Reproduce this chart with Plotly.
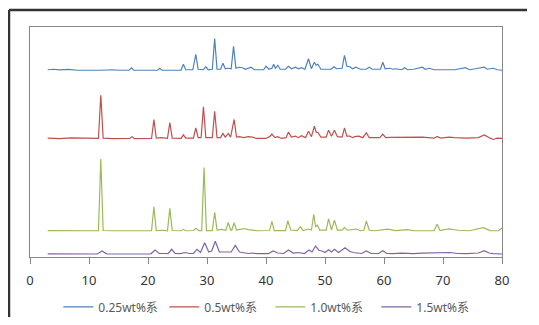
import plotly.graph_objects as go

# 2-theta (deg) and relative intensity (offset stacked)
x_025 = [3, 4, 5, 6.5, 8, 10, 12, 14, 15, 16.8, 17.2, 17.6, 19, 21.6, 22, 22.4, 24, 25.6, 26, 26.4,
         27.6, 28.1, 28.5, 29.4, 29.8, 30.2, 30.9, 31.3, 31.7, 32.3, 32.7, 33.1, 33.5, 34.1, 34.5, 34.9,
         35.5, 36, 36.5, 37.5, 38, 39.6, 40, 40.5, 41, 41.3, 41.6, 42, 42.4, 43.3, 43.8, 44.3, 45, 45.5,
         46, 46.6, 47.2, 47.7, 48.2, 48.5, 48.8, 49.3, 51, 51.5, 52, 52.9, 53.3, 53.7, 54.2, 54.7, 55.2,
         56, 57, 57.5, 58, 59.4, 59.8, 60.2, 61, 61.5, 62, 63, 63.5, 64, 65, 66.5, 67, 67.7, 68.5, 70,
         72, 73.8, 74.5, 75.5, 76.5, 77, 77.5, 78.5, 79.2, 80]
y_025 = [187.5, 188, 187.3, 187.8, 187, 186.8, 187, 187.5, 187, 187, 189.5, 187, 186.8, 187, 189, 187, 187, 187.2, 193, 187.5,
         187.5, 203, 188, 187.5, 190.5, 187.5, 188, 218.7, 188, 188, 194, 188.5, 189, 188.5, 211, 189,
         190, 189.5, 188, 190, 187.5, 187.5, 191, 188, 189, 193, 189, 192, 188, 188, 191, 188.5, 190, 188.5,
         189.5, 188, 198.5, 188.5, 195, 192, 193, 188, 188, 190.5, 188.5, 189, 202, 191, 190.5, 188.5, 190,
         188, 188, 190, 188, 188, 195, 188.5, 189, 188, 188.5, 187.5, 189.5, 187.5, 188, 190, 188, 189, 187.5, 187.5,
         187.5, 189.5, 187.5, 188.5, 190, 190, 188, 189, 187.5, 187]

x_05 = [3, 5, 7, 9, 11.6, 12, 12.4, 14, 16.9, 17.3, 17.7, 20.6, 21, 21.4, 22.3, 23.3, 23.7, 24.1, 25.6, 26, 26.4,
        27.7, 28.1, 28.5, 29, 29.4, 29.8, 30.9, 31.3, 31.7, 32.3, 32.7, 33.1, 33.6, 34.0, 34.6, 35.0, 35.5, 36.2,
        37, 37.7, 38.3, 40, 40.6, 41, 41.5, 42, 42.6, 43.4, 43.8, 44.3, 45, 45.5, 46, 46.7, 47.2, 47.7, 48.2,
        48.5, 48.8, 49.3, 50.2, 50.6, 51.1, 51.6, 52.1, 52.9, 53.3, 53.7, 54.2, 54.7, 55, 55.7, 56.4, 57, 57.5,
        59.3, 59.8, 60.3, 61, 62, 63.5, 65, 66.5, 68.5, 69, 69.6, 71, 72, 74, 76, 77, 78, 78.5, 79.2, 80]
y_05 = [119, 118.5, 119.2, 118.7, 118.7, 162, 119, 118.5, 118.7, 120.5, 118.5, 118.7, 137.7, 119, 119.5, 118.7, 134.7, 119, 118.7, 122.3, 119,
        119, 129.3, 119.5, 119.5, 150.3, 119.5, 119.5, 146, 119.5, 119.5, 123.7, 120, 123.7, 120, 137.7, 120, 120.5, 119.5,
        120.5, 120, 118.7, 118.7, 120.5, 123, 119.5, 120.5, 118.7, 119.5, 125, 120, 121, 119.5, 121.5, 119.5, 126, 120.5, 131,
        125, 124.7, 120, 120, 127, 121, 127, 120.5, 120, 129.3, 121, 121, 119.5, 120.5, 121, 119.5, 124.3, 119.5,
        119.5, 123, 119.5, 119.8, 119.8, 120, 119.5, 120, 119, 120.7, 119, 120, 119.5, 119, 119.5, 122.3, 119, 117.7, 119, 118.7]

x_10 = [3, 5, 7, 9, 11.6, 12, 12.4, 14, 17, 20.6, 21, 21.4, 22.5, 23.3, 23.7, 24.1, 25.6, 26, 26.4, 27.7, 28.1, 28.6,
        29.1, 29.5, 29.9, 30.9, 31.3, 31.7, 32.5, 33.2, 33.6, 34.0, 34.2, 34.6, 35.0, 35.6, 36.3, 37, 37.6, 38.5,
        40.6, 41, 41.4, 43.3, 43.7, 44.2, 45.3, 45.8, 46.3, 47.2, 47.7, 48.1, 48.4, 48.7, 49.1, 50.2, 50.6, 51.1,
        51.6, 52.1, 52.9, 53.3, 53.8, 55.3, 56, 56.6, 57, 57.5, 58.5, 60.6, 62, 64, 65, 67, 68.5, 69, 69.5, 71,
        72.5, 74.5, 75.3, 76.8, 78, 79.4, 80]
y_10 = [26.5, 26.3, 26.8, 26.3, 26.3, 98, 26.5, 26.3, 26.5, 26.3, 50.3, 26.5, 26.8, 26.3, 48.7, 26.5, 26.3, 27.7, 26.3, 26.5, 28.7, 26.5,
        26.5, 89.7, 26.5, 26.5, 44.7, 27, 27.7, 26.8, 34.7, 27, 27, 34.3, 27, 28, 28.5, 27.5, 27, 26.3,
        26.5, 35.7, 26.5, 26.5, 36.3, 27, 26.5, 30.3, 26.5, 28, 27, 42.7, 30, 32, 27, 27, 38.3, 27,
        37, 27, 27, 29.7, 26.8, 28, 26.5, 26.8, 36, 26.8, 26.3, 28, 26.5, 27.5, 26.3, 26.5, 26.5, 32.7, 26.5, 28.2,
        26.8, 26.3, 27.5, 29.3, 26.5, 26.3, 29]

x_15 = [3, 5, 7, 9, 11.4, 12.2, 13, 15, 17, 19, 20.5, 21.2, 21.9, 22.8, 23.4, 24, 24.6, 25.5, 26.3, 27, 27.7,
        28.3, 28.9, 29.6, 30.3, 30.8, 31.4, 32.1, 32.7, 33.2, 33.6, 34.1, 34.8, 35.5, 36, 37, 37.7, 38.5, 40.4,
        41.2, 42, 43, 43.8, 44.6, 45.5, 46.5, 47.3, 47.8, 48.4, 49.0, 49.5, 50, 50.6, 51.1, 51.6, 52.3, 53.4,
        54.2, 54.8, 56.2, 57, 57.8, 59.1, 59.8, 60.5, 61.5, 63, 65, 66.5, 69, 71.2, 72.5, 74, 76, 77, 77.8,
        78.5, 80]
y_15 = [3.2, 3, 3.3, 3, 3, 6, 3.2, 3, 3.3, 3, 3.2, 7, 3.5, 3.5, 3.3, 7.7, 3.5, 3.3, 4.5, 3.5, 3.5,
        7.7, 4.5, 14.3, 5, 6, 15.7, 5, 5, 4.8, 5, 5, 11.7, 5, 4.5, 3.5, 4, 3.3, 3.3,
        6, 4, 3.5, 7, 4, 4.5, 3.5, 7, 5, 11, 6.5, 6, 4.5, 7.3, 5, 7.7, 4.5, 9.3,
        5.5, 4.5, 3.5, 6, 3.5, 3.5, 6.3, 3.5, 3.3, 3.8, 3.3, 3.8, 4.5, 4.5, 3.5, 3.3, 4, 6.3, 4,
        3.3, 3]

tick_vals = [0, 10, 20, 30, 40, 50, 60, 70, 80]
names = ["0.25wt%系", "0.5wt%系", "1.0wt%系", "1.5wt%系"]
colors = ["#4F81BD", "#C0504D", "#9BBB59", "#8064A2"]

fig = go.Figure()
for xs, ys, nm, c in zip([x_025, x_05, x_10, x_15], [y_025, y_05, y_10, y_15], names, colors):
    fig.add_trace(go.Scatter(x=xs, y=ys, mode="lines", name=nm,
                             line=dict(color=c, width=1.2)))

fig.update_layout(
    width=519, height=309,
    margin=dict(l=22, r=25, t=19, b=60, autoexpand=False),
    paper_bgcolor="white", plot_bgcolor="white",
    font=dict(family="Noto Sans, Noto Sans CJK SC", size=12, color="#404040"),
    showlegend=True,
    legend=dict(orientation="h", x=0.06, xanchor="left", y=-0.217, yanchor="middle",
                font=dict(size=12, color="#595959"), itemwidth=30, tracegroupgap=0,
                entrywidth=61, entrywidthmode="pixels",
                bgcolor="rgba(0,0,0,0)"),
    xaxis=dict(range=[0, 80], tickvals=tick_vals, showgrid=False, zeroline=False,
               showline=True, linecolor="#868686", linewidth=1, mirror=True,
               ticks="outside", ticklen=6, tickcolor="#868686", ticklabelstandoff=5,
               tickfont=dict(size=13, color="#333333")),
    yaxis=dict(range=[0, 230.3], showgrid=False, zeroline=False, showticklabels=False,
               showline=True, linecolor="#868686", linewidth=1, mirror=True, ticks=""),
    shapes=[dict(type="line", xref="paper", yref="paper",
                 x0=-0.0445, x1=-0.0445, y0=-0.4, y1=1.074,
                 line=dict(color="#333333", width=2.5)),
            dict(type="line", xref="paper", yref="paper",
                 x0=-0.0445, x1=1.1, y0=1.074, y1=1.074,
                 line=dict(color="#333333", width=2.5))],
)

fig.write_html("out.html")
